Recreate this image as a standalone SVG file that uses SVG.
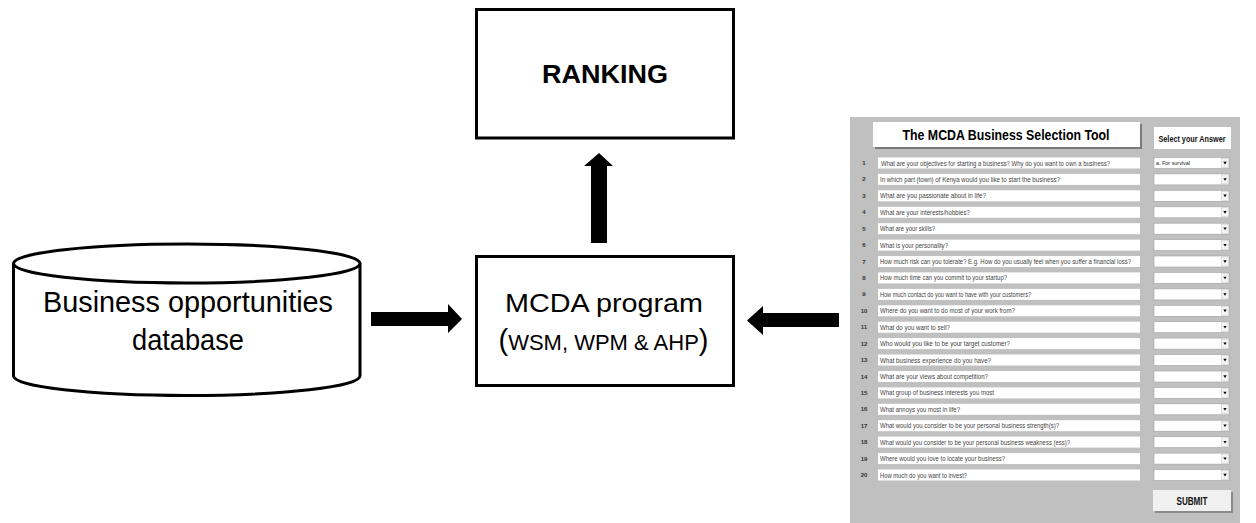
<svg xmlns="http://www.w3.org/2000/svg" xmlns:xlink="http://www.w3.org/1999/xlink" width="1256" height="523" viewBox="0 0 1256 523">
<style>
.box{fill:#fff;stroke:#000;stroke-width:3}
.main{font-family:"Liberation Sans",Arial,sans-serif;fill:#000}
.arrow{fill:#000;stroke:none}
.f{font-family:"Liberation Sans",Arial,sans-serif}
.q{fill:#fff}
.qt{font-size:7px;fill:#444}
.num{font-size:6px;font-weight:bold;fill:#333;text-anchor:middle}
.ddbox{fill:#fff;stroke:#a0a0a0;stroke-width:0.6}
.ddbtn{fill:#f4f4f4;stroke:#bbb;stroke-width:0.4}
</style>
<defs>
<g id="dd">
<rect x="1154" y="-5.5" width="75" height="11" class="ddbox"/>
<rect x="1221.5" y="-4.5" width="7" height="9" class="ddbtn"/>
<path d="M1223.3,-1.2 L1226.7,-1.2 L1225,1.4 Z" fill="#000"/>
</g>
</defs>
<rect x="0" y="0" width="1256" height="523" fill="#fff"/>

<g id="database">
<path d="M13.5,263.5 L13.5,376 A173.25,19.5 0 0 0 360,376 L360,263.5" class="box"/>
<ellipse cx="186.75" cy="263.5" rx="173.25" ry="19.5" class="box"/>
<text class="main" x="188" y="312" font-size="29" text-anchor="middle" textLength="290" lengthAdjust="spacingAndGlyphs">Business opportunities</text>
<text class="main" x="188" y="350" font-size="29" text-anchor="middle" textLength="112" lengthAdjust="spacingAndGlyphs">database</text>
</g>

<g id="ranking">
<rect x="476.5" y="9.5" width="257" height="128.5" class="box"/>
<text class="main" x="605" y="83" font-size="26" font-weight="bold" text-anchor="middle" textLength="126" lengthAdjust="spacingAndGlyphs">RANKING</text>
</g>

<g id="mcda">
<rect x="476.5" y="256.5" width="257" height="129" class="box"/>
<text class="main" x="604" y="312" font-size="26" text-anchor="middle" textLength="198" lengthAdjust="spacingAndGlyphs">MCDA program</text>
<text class="main" x="603.5" y="350" text-anchor="middle"><tspan font-size="29">(</tspan><tspan font-size="22">WSM, WPM &amp; AHP</tspan><tspan font-size="29">)</tspan></text>
</g>

<g id="connectors">
<polygon class="arrow" points="371,312 448,312 448,304 462,319 448,333 448,326 371,326"/>
<polygon class="arrow" points="839,313 763,313 763,306 747,320.5 763,335 763,327 839,327"/>
<polygon class="arrow" points="591,243 591,166 584,166 599,153 613,166 607,166 607,243"/>
</g>

<g id="form">
<rect x="850" y="117" width="390" height="406" fill="#c0c0c0"/>
<rect x="875" y="124" width="267" height="25" fill="#7a7a7a"/>
<rect x="873" y="122" width="267" height="25" fill="#fff"/>
<text class="f" x="1006" y="140" font-size="15" font-weight="bold" fill="#000" text-anchor="middle" textLength="207" lengthAdjust="spacingAndGlyphs">The MCDA Business Selection Tool</text>
<rect x="1154" y="127" width="77" height="22" fill="#fff"/>
<text class="f" x="1192" y="142" font-size="9.5" font-weight="bold" fill="#111" text-anchor="middle" textLength="67" lengthAdjust="spacingAndGlyphs">Select your Answer</text>

<g class="f">
<rect class="q" x="878" y="157.5" width="262" height="11"/>
<rect class="q" x="878" y="173.9" width="262" height="11"/>
<rect class="q" x="878" y="190.3" width="262" height="11"/>
<rect class="q" x="878" y="206.8" width="262" height="11"/>
<rect class="q" x="878" y="223.2" width="262" height="11"/>
<rect class="q" x="878" y="239.6" width="262" height="11"/>
<rect class="q" x="878" y="256.0" width="262" height="11"/>
<rect class="q" x="878" y="272.4" width="262" height="11"/>
<rect class="q" x="878" y="288.9" width="262" height="11"/>
<rect class="q" x="878" y="305.3" width="262" height="11"/>
<rect class="q" x="878" y="321.7" width="262" height="11"/>
<rect class="q" x="878" y="338.1" width="262" height="11"/>
<rect class="q" x="878" y="354.5" width="262" height="11"/>
<rect class="q" x="878" y="371.0" width="262" height="11"/>
<rect class="q" x="878" y="387.4" width="262" height="11"/>
<rect class="q" x="878" y="403.8" width="262" height="11"/>
<rect class="q" x="878" y="420.2" width="262" height="11"/>
<rect class="q" x="878" y="436.6" width="262" height="11"/>
<rect class="q" x="878" y="453.1" width="262" height="11"/>
<rect class="q" x="878" y="469.5" width="262" height="11"/>

<text class="num" x="864" y="165">1</text>
<text class="num" x="864" y="181.4">2</text>
<text class="num" x="864" y="197.8">3</text>
<text class="num" x="864" y="214.3">4</text>
<text class="num" x="864" y="230.7">5</text>
<text class="num" x="864" y="247.1">6</text>
<text class="num" x="864" y="263.5">7</text>
<text class="num" x="864" y="279.9">8</text>
<text class="num" x="864" y="296.4">9</text>
<text class="num" x="864" y="312.8">10</text>
<text class="num" x="864" y="329.2">11</text>
<text class="num" x="864" y="345.6">12</text>
<text class="num" x="864" y="362">13</text>
<text class="num" x="864" y="378.5">14</text>
<text class="num" x="864" y="394.9">15</text>
<text class="num" x="864" y="411.3">16</text>
<text class="num" x="864" y="427.7">17</text>
<text class="num" x="864" y="444.1">18</text>
<text class="num" x="864" y="460.6">19</text>
<text class="num" x="864" y="477">20</text>

<text class="qt" x="881" y="165.5" textLength="229" lengthAdjust="spacingAndGlyphs">What are your objectives for starting a business? Why do you want to own a business?</text>
<text class="qt" x="880" y="181.9" textLength="180" lengthAdjust="spacingAndGlyphs">In which part (town) of Kenya would you like to start the business?</text>
<text class="qt" x="880" y="198.3" textLength="106" lengthAdjust="spacingAndGlyphs">What are you passionate about in life?</text>
<text class="qt" x="880" y="214.8" textLength="90" lengthAdjust="spacingAndGlyphs">What are your interests/hobbies?</text>
<text class="qt" x="880" y="231.2" textLength="55" lengthAdjust="spacingAndGlyphs">What are your skills?</text>
<text class="qt" x="880" y="247.6" textLength="68" lengthAdjust="spacingAndGlyphs">What is your personality?</text>
<text class="qt" x="880" y="264" textLength="251" lengthAdjust="spacingAndGlyphs">How much risk can you tolerate? E.g. How do you usually feel when you suffer a financial loss?</text>
<text class="qt" x="880" y="280.4" textLength="127" lengthAdjust="spacingAndGlyphs">How much time can you commit to your startup?</text>
<text class="qt" x="880" y="296.9" textLength="151" lengthAdjust="spacingAndGlyphs">How much contact do you want to have with your customers?</text>
<text class="qt" x="880" y="313.3" textLength="135" lengthAdjust="spacingAndGlyphs">Where do you want to do most of your work from?</text>
<text class="qt" x="880" y="329.7" textLength="70" lengthAdjust="spacingAndGlyphs">What do you want to sell?</text>
<text class="qt" x="880" y="346.1" textLength="130" lengthAdjust="spacingAndGlyphs">Who would you like to be your target customer?</text>
<text class="qt" x="880" y="362.5" textLength="111" lengthAdjust="spacingAndGlyphs">What business experience do you have?</text>
<text class="qt" x="880" y="379" textLength="108" lengthAdjust="spacingAndGlyphs">What are your views about competition?</text>
<text class="qt" x="880" y="395.4" textLength="114" lengthAdjust="spacingAndGlyphs">What group of business interests you most</text>
<text class="qt" x="880" y="411.8" textLength="80" lengthAdjust="spacingAndGlyphs">What annoys you most in life?</text>
<text class="qt" x="880" y="428.2" textLength="179" lengthAdjust="spacingAndGlyphs">What would you consider to be your personal business strength(s)?</text>
<text class="qt" x="880" y="444.6" textLength="190" lengthAdjust="spacingAndGlyphs">What would you consider to be your personal business weakness (ess)?</text>
<text class="qt" x="880" y="461.1" textLength="125" lengthAdjust="spacingAndGlyphs">Where would you love to locate your business?</text>
<text class="qt" x="880" y="477.5" textLength="87" lengthAdjust="spacingAndGlyphs">How much do you want to invest?</text>
</g>

<use xlink:href="#dd" href="#dd" transform="translate(0,163)"/>
<use xlink:href="#dd" href="#dd" transform="translate(0,179.4)"/>
<use xlink:href="#dd" href="#dd" transform="translate(0,195.8)"/>
<use xlink:href="#dd" href="#dd" transform="translate(0,212.3)"/>
<use xlink:href="#dd" href="#dd" transform="translate(0,228.7)"/>
<use xlink:href="#dd" href="#dd" transform="translate(0,245.1)"/>
<use xlink:href="#dd" href="#dd" transform="translate(0,261.5)"/>
<use xlink:href="#dd" href="#dd" transform="translate(0,277.9)"/>
<use xlink:href="#dd" href="#dd" transform="translate(0,294.4)"/>
<use xlink:href="#dd" href="#dd" transform="translate(0,310.8)"/>
<use xlink:href="#dd" href="#dd" transform="translate(0,327.2)"/>
<use xlink:href="#dd" href="#dd" transform="translate(0,343.6)"/>
<use xlink:href="#dd" href="#dd" transform="translate(0,360)"/>
<use xlink:href="#dd" href="#dd" transform="translate(0,376.5)"/>
<use xlink:href="#dd" href="#dd" transform="translate(0,392.9)"/>
<use xlink:href="#dd" href="#dd" transform="translate(0,409.3)"/>
<use xlink:href="#dd" href="#dd" transform="translate(0,425.7)"/>
<use xlink:href="#dd" href="#dd" transform="translate(0,442.1)"/>
<use xlink:href="#dd" href="#dd" transform="translate(0,458.6)"/>
<use xlink:href="#dd" href="#dd" transform="translate(0,475)"/>
<text class="f" x="1156" y="165" font-size="5" fill="#222" textLength="34" lengthAdjust="spacingAndGlyphs">a. For survival</text>

<rect x="1155" y="492" width="78" height="21" fill="#8a8a8a"/>
<rect x="1153" y="490" width="78" height="21" fill="#f0f0f0"/>
<text class="f" x="1192" y="505" font-size="10.5" font-weight="bold" fill="#111" text-anchor="middle" textLength="31" lengthAdjust="spacingAndGlyphs">SUBMIT</text>
</g>
</svg>
